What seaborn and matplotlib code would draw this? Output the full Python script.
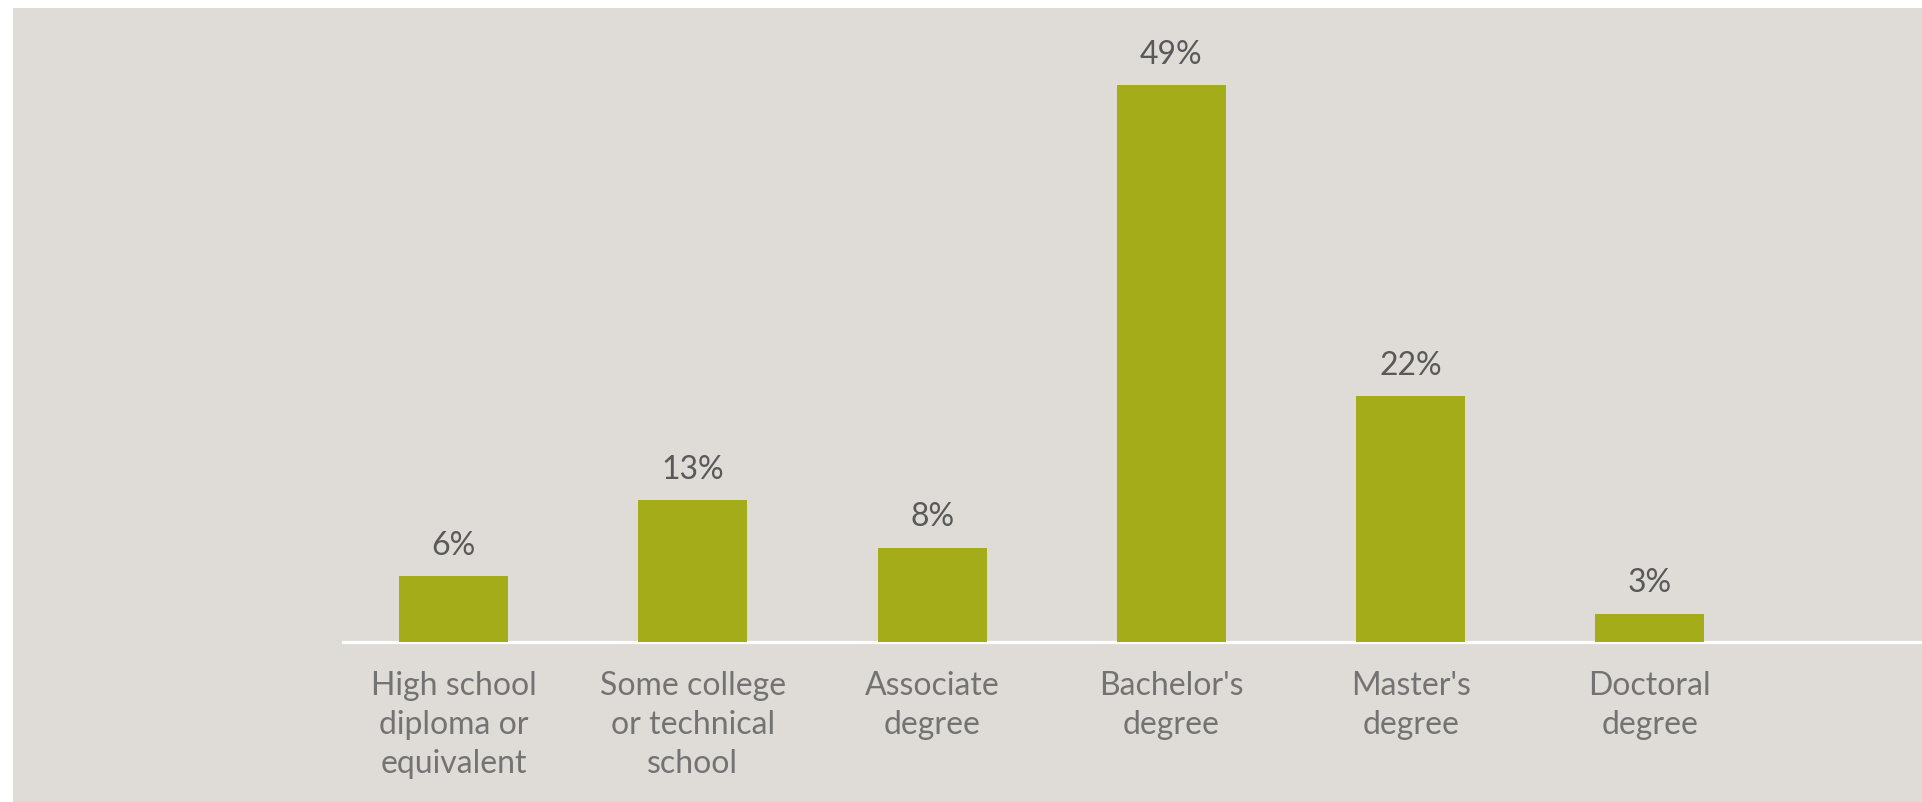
import matplotlib
matplotlib.use("Agg")
import matplotlib.pyplot as plt
import seaborn as sns
import pandas as pd
from matplotlib.patches import Rectangle

categories = ["High school\ndiploma or\nequivalent", "Some college\nor technical\nschool",
              "Associate\ndegree", "Bachelor's\ndegree", "Master's\ndegree", "Doctoral\ndegree"]
values = [5.8, 12.5, 8.3, 49.0, 21.6, 2.5]
value_labels = ["6%", "13%", "8%", "49%", "22%", "3%"]

sns.set_theme(style="white")
plt.rcParams['font.family'] = ['Lato', 'DejaVu Sans']

W, H = 1922, 802
fig = plt.figure(figsize=(W / 100, H / 100), dpi=100, facecolor="white")
fig.patches.append(Rectangle((13 / W, 0), 1 - 13 / W, 1 - 8 / H, transform=fig.transFigure,
                             facecolor="#DFDCD8", edgecolor="none", zorder=-10))

ax_left = 343 / W
ax_bottom = 1 - 642 / H
ax_top = 1 - 8 / H
ax = fig.add_axes([ax_left, ax_bottom, 1 - ax_left, ax_top - ax_bottom])
ax.set_zorder(5)
ax.set_facecolor("none")

df = pd.DataFrame({"cat": categories, "val": values})
sns.barplot(data=df, x="cat", y="val", color="#A5AC19", saturation=1, width=0.455, ax=ax,
            zorder=3, edgecolor="none", linewidth=0)

ax.set_xlim(-0.4618, 6.137)
ax.set_ylim(0, 634 / 11.37)
for s in ["left", "top", "right"]:
    ax.spines[s].set_visible(False)
ax.spines["bottom"].set_color("white")
ax.spines["bottom"].set_linewidth(2.3)
ax.set_yticks([])
ax.set_xlabel("")
ax.set_ylabel("")
ax.tick_params(axis="x", length=0, pad=21, labelsize=23, labelcolor="#737373")
for t in ax.get_xticklabels():
    t.set_multialignment("center")
    t.set_linespacing(1.38)

ax.bar_label(ax.containers[0], labels=value_labels, padding=11, fontsize=23, color="#595959")

fig.savefig("out.png", dpi=100, facecolor="white")
